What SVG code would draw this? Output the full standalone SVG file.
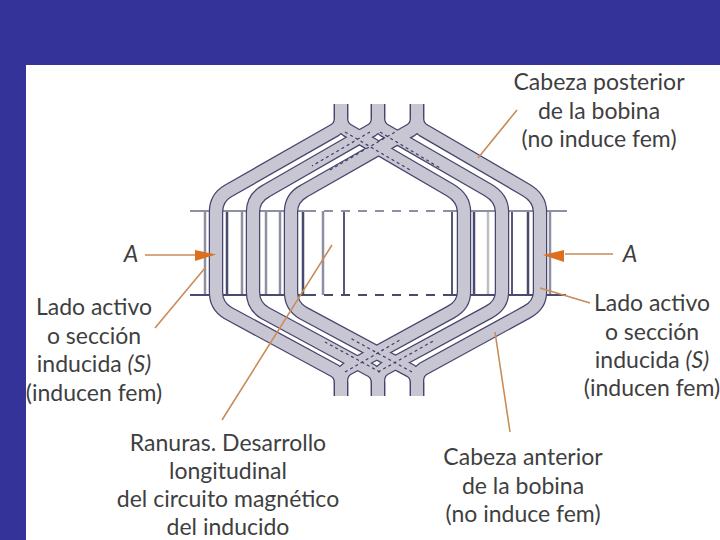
<svg xmlns="http://www.w3.org/2000/svg" width="720" height="540" viewBox="0 0 720 540">
<style>
text{font-family:"Lato","Liberation Sans",sans-serif;font-size:23px;fill:#3f3f3f;text-anchor:middle}
.i{font-style:italic}
.o{fill:none;stroke:#45456e;stroke-width:14.5}
.f{fill:none;stroke:#c9c6d3;stroke-width:12}
.d{fill:none;stroke:#3d3d68;stroke-width:1.2;stroke-dasharray:3 3}
.v{stroke-width:2.500;fill:none}
.g{stroke:#8f8fa3}.k{stroke:#4a4a70}.n{stroke:#2e2e58}.l{stroke:#bdbdc8}
.h{fill:none;stroke-width:2}
.a{stroke:#c98c58;stroke-width:1.600;fill:none}
.b{fill:#dc7020;stroke:none}
</style>
<defs>
<path id="c1" d="M341 104V118Q341 126 335 130L228 191Q216 198 216 212V292Q216 306 228 313L335 371Q341 375 341 383V396"/>
<path id="c2" d="M378 104V118Q378 126 372 130L266 191Q253 198 253 212V292Q253 306 265 313L372 371Q378 375 378 383V396"/>
<path id="c3" d="M417 104V118Q417 126 411 130L304 191Q291 198 291 212V292Q291 306 303 313L411 371Q417 375 417 383V396"/>
<path id="c4" d="M341 104V118Q341 126 347 130L450 190Q464 198 464 212V292Q464 305 451 312L347 369Q341 373 341 381V396"/>
<path id="c5" d="M378 104V118Q378 126 384 130L488 190Q502 198 502 212V292Q502 305 489 312L384 369Q378 373 378 381V396"/>
<path id="c6" d="M417 104V118Q417 126 423 130L526 190Q540 198 540 212V292Q540 305 527 312L423 369Q417 373 417 381V396"/>
</defs>
<rect width="720" height="540" fill="#333399"/>
<rect x="26" y="65" width="694" height="475" fill="#fff"/>
<g id="ranuras">
<g class="v">
<path class="g" d="M205 211V295M242 211V295M266 211V295M280 211V295M550 211V295"/>
<path class="k" d="M227 211V295M303 211V295M474 211V295M528 211V295"/>
<path class="g" d="M323 211V295"/>
<path class="n" d="M344 211V295M452 211V295M512 211V295" stroke-width="1.600"/>
<path class="l" d="M488 211V295"/>
</g>
<path class="h g" d="M190 211H307M450 211H567"/>
<path class="h g" d="M307 211H450" stroke-dasharray="9 8"/>
<path class="h k" d="M190 295H307M450 295H566"/>
<path class="h k" d="M307 295H450" stroke-dasharray="9 8"/>
</g>
<g id="bobinas">
<g class="o"><use href="#c1"/><use href="#c2"/><use href="#c3"/><use href="#c4"/><use href="#c5"/><use href="#c6"/></g>
<g class="f"><use href="#c1"/><use href="#c2"/><use href="#c3"/><use href="#c4"/><use href="#c5"/><use href="#c6"/></g>
<path class="d" d="M345 132L410 170M330 170L395 132M380 132L440 168M370 132L312 166M345 372L400 340M412 372L350 338M380 372L325 342M378 372L435 340"/>
</g>
<g id="conectores">
<path class="a" d="M517 110L478 158M205 268L155 328M332 245L222 420M495 332L510 432M540 288L590 303"/>
<path class="a" d="M145 255H196M565 254H613"/>
<path class="b" d="M195 250L216 254.500L195 261Z"/>
<path class="b" d="M564 250V262L543 255Z"/>
</g>
<g id="etiquetas">
<text class="i" x="131" y="262">A</text>
<text class="i" x="630" y="262">A</text>
<text x="599" y="90">Cabeza posterior</text>
<text x="599" y="119">de la bobina</text>
<text x="599" y="147">(no induce fem)</text>
<text x="94" y="315">Lado activo</text>
<text x="94" y="344">o sección</text>
<text x="94" y="372"><tspan>inducida </tspan><tspan class="i">(S)</tspan></text>
<text x="94" y="401">(inducen fem)</text>
<text x="652" y="311">Lado activo</text>
<text x="652" y="340">o sección</text>
<text x="652" y="368"><tspan>inducida </tspan><tspan class="i">(S)</tspan></text>
<text x="652" y="396">(inducen fem)</text>
<text x="228" y="451">Ranuras. Desarrollo</text>
<text x="228" y="479">longitudinal</text>
<text x="228" y="507">del circuito magnético</text>
<text x="228" y="535">del inducido</text>
<text x="523" y="465">Cabeza anterior</text>
<text x="523" y="494">de la bobina</text>
<text x="523" y="522">(no induce fem)</text>
</g>
</svg>
